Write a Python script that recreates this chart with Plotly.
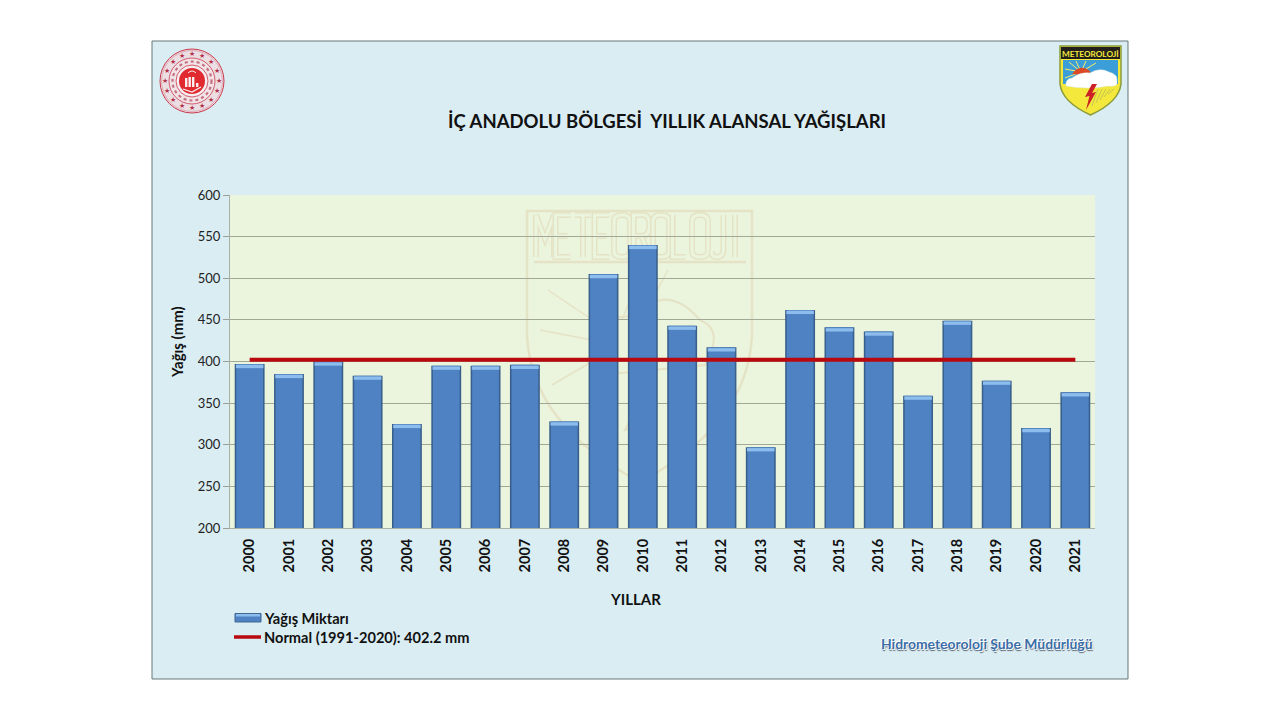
import math
import re

import plotly.graph_objects as go

years = [str(y) for y in range(2000, 2022)]
rainfall = [397, 385, 400, 383, 325, 395, 395, 396, 328, 505, 540,
            443, 417, 297, 462, 441, 436, 359, 449, 377, 320, 363]
normal_value = 402.2
normal_line = [normal_value] * len(years)
y_ticks = [200, 250, 300, 350, 400, 450, 500, 550, 600]

FONT = "Lato"
# plot area in page pixels, decoration below is placed relative to it
LEFT, RIGHT, TOP, BOTTOM = 230, 1095, 195, 528
WATERMARK = "#e5e3c6"
PLOT_BG = "#ebf4dc"


def px(x):
    return (x - LEFT) / (RIGHT - LEFT)


def py(y):
    return (BOTTOM - y) / (BOTTOM - TOP)


def to_path(text):
    # "x,y" pairs in page pixels -> paper coordinates
    return re.sub(
        r"(-?[\d.]+),(-?[\d.]+)",
        lambda m: f"{px(float(m[1])):.5f},{py(float(m[2])):.5f}",
        text,
    )


shapes = []


def add_path(path, fill=None, line=None, width=1, layer="below", dash=None):
    shapes.append(dict(
        type="path", xref="paper", yref="paper", path=to_path(path), layer=layer,
        fillcolor=fill or "rgba(0,0,0,0)",
        line=dict(color=line or "rgba(0,0,0,0)", width=width if line else 0, dash=dash),
    ))


def add_circle(cx, cy, r, fill=None, line=None, width=1, dash=None):
    shapes.append(dict(
        type="circle", xref="paper", yref="paper", layer="below",
        x0=px(cx - r), x1=px(cx + r), y0=py(cy + r), y1=py(cy - r),
        fillcolor=fill or "rgba(0,0,0,0)",
        line=dict(color=line or "rgba(0,0,0,0)", width=width if line else 0, dash=dash),
    ))


# slide panel and plot background
add_path("M152,41 L1128,41 L1128,679 L152,679 Z", fill="#daedf3", line="#66787a", width=1)
add_path(f"M{LEFT},{TOP} L{RIGHT},{TOP} L{RIGHT},{BOTTOM} L{LEFT},{BOTTOM} Z", fill=PLOT_BG)

# watermark shield behind the bars
add_path("M527,211 L752,211 L752,335 Q748,425 640,482 Q531,425 527,335 Z", line=WATERMARK, width=2.5)
add_path("M534,262 L746,262", line=WATERMARK, width=2.5)
for ray in ["M548,290 L600,325", "M540,330 L592,340", "M552,385 L598,358",
            "M640,275 L622,320", "M668,270 L640,322"]:
    add_path(ray, line=WATERMARK, width=1.5)
add_path("M590,345 Q600,310 640,318", line=WATERMARK, width=2)
add_path("M640,310 Q670,285 700,320 Q725,330 705,365 L600,375", line=WATERMARK, width=2)
add_path("M650,380 L625,430 L650,420 L640,465", line=WATERMARK, width=2)

letters = {
    "M": "M0,42 L0,0 L9,24 L18,0 L18,42",
    "E": "M15,0 L0,0 L0,42 L15,42 M0,21 L12,21",
    "T": "M0,0 L16,0 M8,0 L8,42",
    "O": "M0,6 Q0,0 8,0 Q16,0 16,6 L16,36 Q16,42 8,42 Q0,42 0,36 Z",
    "R": "M0,42 L0,0 L10,0 Q16,0 16,10 Q16,21 8,21 L0,21 M8,21 L16,42",
    "L": "M0,0 L0,42 L13,42",
    "J": "M12,0 L12,34 Q12,42 5,42 Q0,42 0,36",
    "I": "M4,0 L4,42",
}
cursor = 536
for ch in "METEOROLOJI":
    pts = letters[ch]
    moved = re.sub(r"(-?[\d.]+),(-?[\d.]+)",
                   lambda m: f"{float(m[1]) + cursor},{float(m[2]) + 215}", pts)
    add_path(moved, line=WATERMARK, width=6)
    add_path(moved, line=PLOT_BG, width=3)
    cursor += 19.5 if ch != "I" else 0

# left seal
SEAL = "#c9394e"
add_circle(192, 81, 32, fill="#ecdfe4", line=SEAL, width=1)
add_circle(192, 81, 30.5, line="#d98a98", width=0.6)
add_circle(192, 81, 23, fill="#f1e3e6", line=SEAL, width=0.8)
add_circle(192, 81, 19.5, line="#c66f80", width=2.2, dash="dot")
add_circle(192, 81, 16, fill="#f5eef0", line=SEAL, width=0.8)
add_circle(192, 81, 13, fill="#e12a30")
for bx, bh in [(185, 9), (188.5, 10), (192, 10), (196, 4)]:
    add_path(f"M{bx},{87} L{bx + 2.4},{87} L{bx + 2.4},{87 - bh} L{bx},{87 - bh} Z", fill="#fbeeee")
add_path("M183,89 L192,92 L201,87", line="#fbeeee", width=1.2)
add_path("M188,73 Q192,69 196,73", line="#fbeeee", width=1)

# right badge
add_path("M1060,46 L1121,46 L1121,84 Q1119,102 1090.5,115 Q1062,102 1060,84 Z",
         fill="#f3e83b", line="#8b9a3a", width=1.5)
add_path("M1061,47 L1120,47 L1120,59 L1061,59 Z", fill="#23201c")
add_path("M1063,60 L1118,60 L1118,84 L1063,84 Z", fill="#3c9ed8")
for ray in ["M1081,72 L1069,62", "M1081,72 L1076,61", "M1081,72 L1086,61", "M1081,72 L1065,69",
            "M1081,72 L1096,63", "M1081,72 L1065,78"]:
    add_path(ray, line="#f6ee6a", width=1)
add_path("M1072,74 Q1080,63 1090,71 L1090,76 Z", fill="#dc4a25")
add_path("M1066,86 Q1065,79 1072,78 Q1080,72 1090,73 Q1100,67 1109,72 Q1118,74 1117,82 "
         "Q1118,87 1108,86 Q1088,90 1066,86 Z", fill="#ffffff", line="#dfe6ea", width=0.5)
add_path("M1092,84 L1085,97 L1089.5,96 L1086,110 L1096,92 L1092,93 L1097,84 Z", fill="#cc2226")
for k in range(5):
    add_path(f"M{1098 + k * 4},{89} L{1092 + k * 4},{106 - k * 3}", line="#b5bd58", width=0.8)

# seal stars
annotations = []
for i in range(16):
    angle = 2 * math.pi * i / 16
    annotations.append(dict(
        text="★", xref="paper", yref="paper", showarrow=False,
        x=px(192 + 27 * math.cos(angle)), y=py(81 + 27 * math.sin(angle)),
        xanchor="center", yanchor="middle",
        font=dict(size=7, color="#b5304a", family="DejaVu Sans"),
    ))

# legend swatches and entries
add_path("M235,613.5 L261,613.5 L261,622 L235,622 Z", fill="#4f82c3", line="#3f6793", width=1)
add_path("M236,614 L260,614 L260,616.5 L236,616.5 Z", fill="#8dbdec")
add_path("M234,637 L261,637", line="#b9090f", width=3.5)
legend_names = ["Yağış Miktarı", "Normal (1991-2020): 402.2 mm"]
for name, y in zip(legend_names, [618, 637]):
    annotations.append(dict(
        text=name, xref="paper", yref="paper", showarrow=False,
        x=px(261.5), y=py(y), xanchor="left", yanchor="middle",
        font=dict(size=14.6, color="#111111", family=FONT, weight="bold"),
    ))

annotations += [
    dict(text="METEOROLOJİ", xref="paper", yref="paper", showarrow=False,
         x=px(1090.5), y=py(53.5), xanchor="center", yanchor="middle",
         font=dict(size=8.2, color="#f3e83b", family=FONT, weight="bold")),
    dict(text="YILLAR", xref="paper", yref="paper", showarrow=False,
         x=px(635), y=py(599), xanchor="center", yanchor="middle",
         font=dict(size=15, color="#111111", family=FONT, weight="bold")),
    dict(text="Yağış (mm)", xref="paper", yref="paper", showarrow=False, textangle=-90,
         x=px(177), y=py(342), xanchor="center", yanchor="middle",
         font=dict(size=15, color="#111111", family=FONT, weight="bold")),
    dict(text="Hidrometeoroloji Şube Müdürlüğü", xref="paper", yref="paper", showarrow=False,
         x=px(986.5), y=py(643.5), xanchor="center", yanchor="middle",
         font=dict(size=13.9, color="#3a6ea8", family=FONT, weight="bold",
                   shadow="1px 1px 0 #ffffff, -1px -1px 0 #ffffff, 1px 2px 1px #556070")),
]

fig = go.Figure()
heights = [v - y_ticks[0] for v in rainfall]
# dark outer bar, body, and lighter bevel on top
fig.add_trace(go.Bar(x=years, y=heights, base=y_ticks[0], width=0.76,
                     marker=dict(color="#39608c", opacity=1, line_width=0),
                     showlegend=False, hoverinfo="skip"))
fig.add_trace(go.Bar(x=years, y=heights, base=y_ticks[0], width=0.68,
                     marker=dict(color="#4f82c3", opacity=1, line_width=0), name="Yağış Miktarı",
                     customdata=rainfall, hovertemplate="%{x}: %{customdata} mm<extra></extra>"))
fig.add_trace(go.Bar(x=years, y=[4] * len(years), base=[v - 5 for v in rainfall], width=0.7,
                     marker=dict(color="#8dbdec", opacity=1, line_width=0),
                     showlegend=False, hoverinfo="skip"))
fig.add_trace(go.Scatter(x=years, y=normal_line, mode="lines", name="Normal (1991-2020): 402.2 mm",
                         line=dict(color="#b9090f", width=4)))

fig.update_layout(
    width=1280,
    height=720,
    margin=dict(l=LEFT, r=1280 - RIGHT, t=TOP, b=720 - BOTTOM, autoexpand=False),
    paper_bgcolor="#ffffff",
    plot_bgcolor="rgba(0,0,0,0)",
    barmode="overlay",
    showlegend=False,
    font=dict(family=FONT, color="#222222"),
    title=dict(
        text="İÇ ANADOLU BÖLGESİ\u00a0\u00a0YILLIK ALANSAL YAĞIŞLARI",
        x=667 / 1280, y=1 - 122 / 720, xanchor="center", yanchor="middle",
        font=dict(size=18.5, color="#111111", family=FONT, weight="bold"),
    ),
    shapes=shapes,
    annotations=annotations,
)
fig.update_xaxes(
    type="category",
    tickangle=-90,
    tickfont=dict(size=14.5, color="#111111", family=FONT, weight="bold"),
    ticks="outside",
    ticklen=4,
    tickcolor="rgba(0,0,0,0)",
    showgrid=False,
    showline=True,
    linecolor="#a9b0a6",
    linewidth=1,
)
fig.update_yaxes(
    range=[200, 600],
    tickvals=y_ticks,
    tickfont=dict(size=13, color="#222222", family=FONT),
    ticks="outside",
    ticklen=6,
    tickcolor="#9aa096",
    showline=True,
    linecolor="#a9b0a6",
    linewidth=1,
    gridcolor="#a2a896",
    gridwidth=1,
)

fig.write_html(
    "out.html",
    config={"displayModeBar": False},
    post_script="document.body.style.margin='0';document.body.style.overflow='hidden';",
)
